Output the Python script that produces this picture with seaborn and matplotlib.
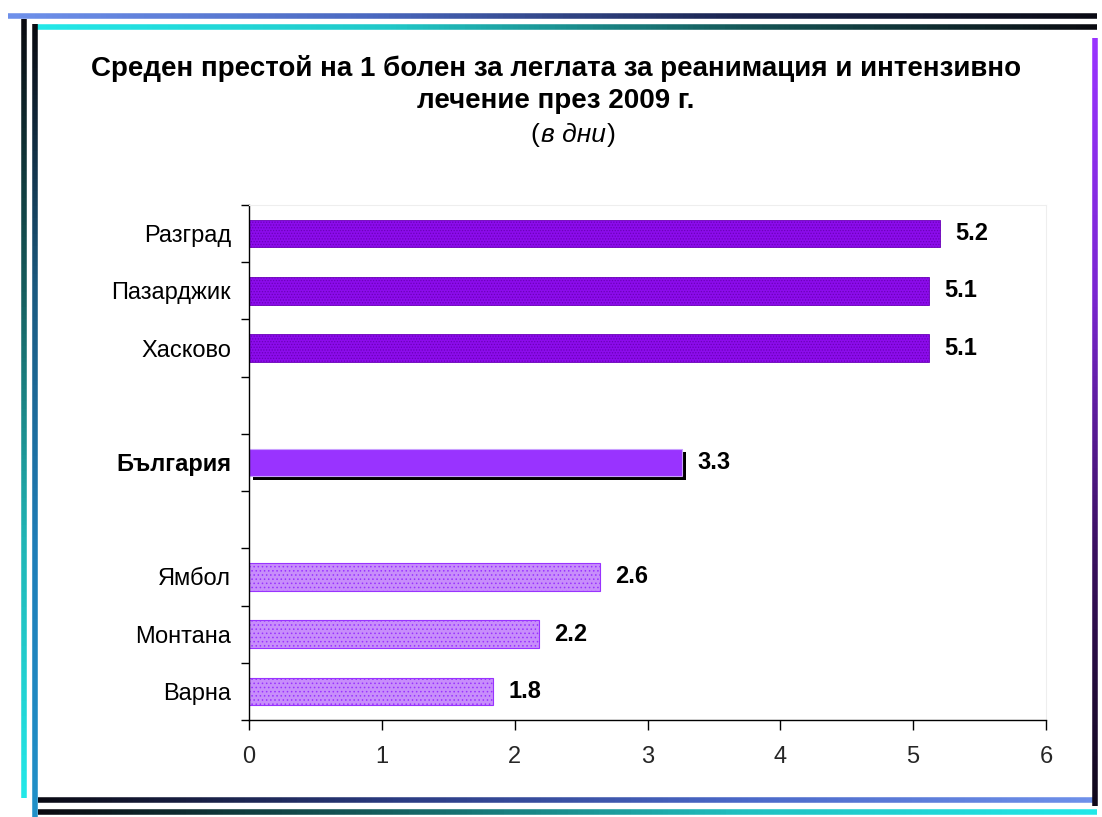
import numpy as np
import pandas as pd
import matplotlib
matplotlib.use("Agg")
import matplotlib.pyplot as plt
import matplotlib.patheffects as pe
from matplotlib.collections import LineCollection
from matplotlib.colors import LinearSegmentedColormap
from matplotlib.ticker import FixedLocator
import seaborn as sns

# ---------------- data ----------------
slot_order = ["Разград", "Пазарджик", "Хасково", " ", "България", "  ", "Ямбол", "Монтана", "Варна"]
top_names = ["Разград", "Пазарджик", "Хасково"]
top_values = [5.2, 5.12, 5.12]
top_labels = ["5.2", "5.1", "5.1"]
bg_names = ["България"]
bg_values = [3.26]
bg_labels = ["3.3"]
low_names = ["Ямбол", "Монтана", "Варна"]
low_values = [2.64, 2.18, 1.84]
low_labels = ["2.6", "2.2", "1.8"]
x_ticks = [0, 1, 2, 3, 4, 5, 6]

title_line1 = "Среден престой на 1 болен за леглата за реанимация и интензивно"
title_line2 = "лечение през 2009 г."
subtitle = "в дни"

# ---------------- style ----------------
sns.set_theme(style="white")
plt.rcParams["font.family"] = ["Liberation Sans", "DejaVu Sans"]
plt.rcParams["hatch.linewidth"] = 0.6

W, H = 1102, 817
fig = plt.figure(figsize=(W / 100, H / 100), dpi=100)
fig.patch.set_facecolor("white")

def px(x, y):
    return x / W, 1 - y / H

l, b = px(249, 720)
r, t = px(1046, 205)
ax = fig.add_axes([l, b, r - l, t - b])

df_top = pd.DataFrame({"name": top_names, "value": top_values})
df_bg = pd.DataFrame({"name": bg_names, "value": bg_values})
df_low = pd.DataFrame({"name": low_names, "value": low_values})

sns.barplot(data=df_top, x="value", y="name", order=slot_order, orient="h",
            color="#8A0AE6", width=0.48, ax=ax, errorbar=None, saturation=1)
n1 = len(ax.patches)
sns.barplot(data=df_bg, x="value", y="name", order=slot_order, orient="h",
            color="#9933FF", width=0.48, ax=ax, errorbar=None, saturation=1)
n2 = len(ax.patches)
sns.barplot(data=df_low, x="value", y="name", order=slot_order, orient="h",
            color="#C88CFA", width=0.48, ax=ax, errorbar=None, saturation=1)

for i, p in enumerate(ax.patches):
    if i < n1:
        p.set_facecolor("#8C0CEC")
        p.set_edgecolor("#6A00B8")
        p.set_hatch("......")
        p.set_linewidth(0.6)
    elif i < n2:
        p.set_facecolor("#9933FF")
        p.set_edgecolor("#C9A0FF")
        p.set_linewidth(0.8)
        p.set_path_effects([pe.SimplePatchShadow(offset=(2.6, -2.6), shadow_rgbFace="black", alpha=1.0),
                            pe.Normal()])
    else:
        p.set_facecolor("#C88EFB")
        p.set_edgecolor("#9933FF")
        p.set_hatch("....")
        p.set_linewidth(0.8)

conts = ax.containers
for c, labs in zip(conts, [top_labels, bg_labels, low_labels]):
    ax.bar_label(c, labels=labs, padding=11, fontsize=17, fontweight="bold", color="black")

ax.set_xlim(0, 6)
ax.set_ylim(len(slot_order) - 0.5, -0.5)
ax.set_xticks(x_ticks)
ax.set_xticklabels([str(v) for v in x_ticks], fontsize=17)
ax.set_yticks(range(len(slot_order)))
ax.set_yticklabels(slot_order, fontsize=17)
for lab in ax.get_yticklabels():
    if lab.get_text() == "България":
        lab.set_fontweight("bold")
ax.yaxis.set_minor_locator(FixedLocator(np.arange(-0.5, len(slot_order), 1.0)))
ax.tick_params(axis="y", which="major", length=0, pad=13, colors="black")
ax.tick_params(axis="y", which="minor", length=6, width=1, color="black", left=True, direction="out")
ax.tick_params(axis="x", which="major", length=7, width=1, color="black", bottom=True, direction="out", pad=12)
ax.set_xlabel("")
ax.set_ylabel("")
for s in ["left", "bottom"]:
    ax.spines[s].set_color("black")
    ax.spines[s].set_linewidth(1)
for s in ["top", "right"]:
    ax.spines[s].set_color("#eeeeee")
    ax.spines[s].set_linewidth(0.8)
ax.grid(False)
ax.set_facecolor("white")

# ---------------- titles ----------------
cx = 556 / W
fig.text(cx, px(0, 68)[1], title_line1, ha="center", va="center", fontsize=20, fontweight="bold", color="black")
fig.text(cx, px(0, 101)[1], title_line2, ha="center", va="center", fontsize=20, fontweight="bold", color="black")
fig.text(573 / W, px(0, 135)[1], subtitle, ha="center", va="center", fontsize=19, style="italic", color="black")
fig.text(539 / W, px(0, 135)[1], "(", ha="right", va="center", fontsize=19, color="black")
fig.text(607 / W, px(0, 135)[1], ")", ha="left", va="center", fontsize=19, color="black")

# ---------------- decorative frame ----------------
def grad_line(p0, p1, colors, lw):
    n = 200
    xs = np.linspace(p0[0], p1[0], n + 1)
    ys = np.linspace(p0[1], p1[1], n + 1)
    pts = np.array([[px(x, y) for x, y in zip(xs, ys)]])
    segs = np.concatenate([pts[:, :-1, None, :], pts[:, 1:, None, :]], axis=2)[0]
    cmap = LinearSegmentedColormap.from_list("g", colors)
    lc = LineCollection(segs, colors=cmap(np.linspace(0, 1, n)), linewidths=lw,
                        transform=fig.transFigure, capstyle="butt")
    fig.add_artist(lc)

lw = 4.0
grad_line((8, 16), (1097, 16), ["#6E90EA", "#4A68C0", "#1A2450", "#0A0A14"], lw)
grad_line((35, 27), (1097, 27), ["#22E8E8", "#20C8C8", "#155858", "#0A0A10"], lw)
grad_line((24, 19), (24, 798), ["#0A0A10", "#155A5A", "#20B4B4", "#22E8E8"], lw)
grad_line((35, 24), (35, 817), ["#0A0A10", "#1A5A80", "#1E7EB8", "#2090C8"], lw)
grad_line((38, 800), (1097, 800), ["#0A0A14", "#2A3A80", "#4A68C8", "#6E90EA"], lw)
grad_line((38, 812), (1097, 812), ["#0A0A10", "#156060", "#20C0C0", "#22E8E8"], lw)
grad_line((1095, 38), (1095, 806), ["#9933FF", "#7A25D0", "#3A1060", "#10081A"], lw)

fig.savefig("out.png", dpi=100, facecolor="white")
